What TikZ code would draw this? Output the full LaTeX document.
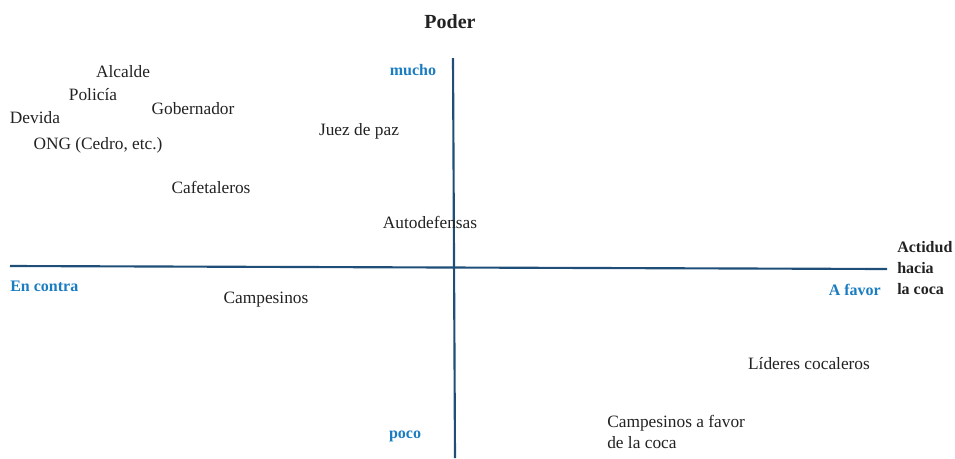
\documentclass[tikz,border=0pt]{standalone}
\usepackage{fontspec}
\setmainfont{Liberation Serif}
\usepackage{xcolor}
\usepackage{tikz}
\definecolor{c1}{HTML}{1f4e79}
\definecolor{c2}{HTML}{1a7cc1}
\definecolor{c3}{HTML}{222222}

\begin{document}
\begin{tikzpicture}[x=0.75pt, y=-0.75pt,
    actor/.style={text=c3, font=\fontsize{13}{15}\selectfont, inner sep=0pt},
    pole/.style={text=c2, font=\fontsize{12}{14}\selectfont\bfseries, inner sep=0pt},
    title/.style={text=c3, font=\fontsize{12}{16}\selectfont\bfseries, inner sep=0pt, align=left}]
    \useasboundingbox (0,0) rectangle (955,458);
    % axes
    \coordinate (xl) at (10,266);
    \coordinate (xr) at (887,269);
    \coordinate (yt) at (453,58);
    \coordinate (yb) at (455,458);
    \draw[c1, line width=1.6pt] (xl) -- (xr);
    \draw[c1, line width=1.6pt] (yt) -- (yb);

    \node[title, font=\fontsize{15}{18}\selectfont\bfseries] (poder) at (450,22) {Poder};
    \node[title, anchor=west] (actitud) at (897,268) {Actidud\\hacia\\la coca};

    \node[pole] (mucho) at (413,70) {mucho};
    \node[pole] (poco) at (405,436) {poco};
    \node[pole, anchor=west] (contra) at (10,286) {En contra};
    \node[pole, anchor=east] (favor) at (881,290) {A favor};

    \node[actor] (alcalde) at (123,72) {Alcalde};
    \node[actor] (policia) at (93,95) {Policía};
    \node[actor] (gobernador) at (193,109) {Gobernador};
    \node[actor] (devida) at (35,118) {Devida};
    \node[actor] (ong) at (98,145) {ONG (Cedro, etc.)};
    \node[actor] (juez) at (359,131) {Juez de paz};
    \node[actor] (cafe) at (211,187) {Cafetaleros};
    \node[actor] (auto) at (430,222) {Autodefensas};
    \node[actor] (camp) at (266,300) {Campesinos};
    \node[actor] (lideres) at (809,364) {Líderes cocaleros};
    \node[actor, anchor=west, align=left, font=\fontsize{13}{16}\selectfont] (campfavor) at (607,432) {Campesinos a favor\\de la coca};
\end{tikzpicture}
\end{document}
